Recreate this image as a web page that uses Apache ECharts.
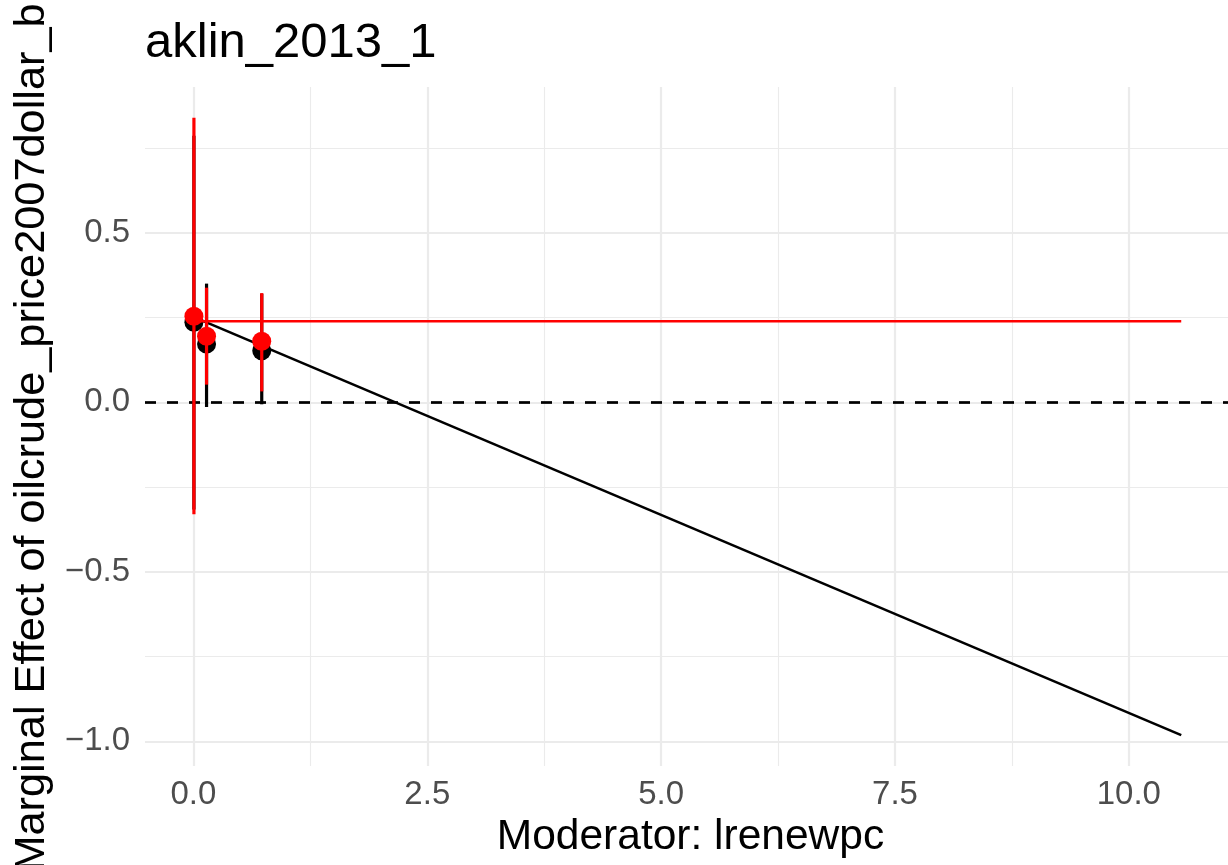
<!DOCTYPE html>
<html>
<head>
<meta charset="utf-8">
<title>aklin_2013_1</title>
<script src="https://cdn.jsdelivr.net/npm/echarts@6/dist/echarts.min.js"></script>
<style>
  html, body { margin: 0; padding: 0; background: #ffffff; }
  #chart { width: 1228px; height: 865px; }
</style>
</head>
<body>
<div id="chart"></div>
<script>
// Moderator bins (x positions of the binned estimates)
const binX = [0.005, 0.14, 0.73];

// Binned estimates (black) with confidence bounds
const binEst = [0.236, 0.172, 0.152];
const binLo  = [-0.316, -0.014, -0.006];
const binHi  = [0.786, 0.350, 0.320];

// Alternative estimates (red) with confidence bounds
const altEst = [0.254, 0.195, 0.180];
const altLo  = [-0.330, 0.052, 0.032];
const altHi  = [0.839, 0.338, 0.322];

// Linear interaction fit (black line)
const linX = [0, 10.56];
const linY = [0.252, -0.982];

// Constant effect (red line)
const flatX = [0, 10.56];
const flatY = [0.239, 0.239];

// Axis ticks
const xTicks = [0, 2.5, 5, 7.5, 10];
const xMinor = [1.25, 3.75, 6.25, 8.75];
const yTicks = [-1.0, -0.5, 0.0, 0.5];
const yMinor = [-0.75, -0.25, 0.25, 0.75];

const X_MIN = -0.518, X_MAX = 11.06;
const Y_MIN = -1.073, Y_MAX = 0.930;

const FONT = "'Liberation Sans', Arial, Helvetica, sans-serif";
const GRID = '#EBEBEB';

function fmt(v) {
  const s = Number(v).toFixed(1);
  return s.replace('-', '\u2212');
}

function errorBars(lo, hi, color, z) {
  return {
    type: 'custom',
    z: z,
    silent: true,
    data: binX.map((x, i) => [x, lo[i], hi[i]]),
    encode: { x: 0, y: [1, 2] },
    renderItem: function (params, api) {
      const p1 = api.coord([api.value(0), api.value(1)]);
      const p2 = api.coord([api.value(0), api.value(2)]);
      return {
        type: 'line',
        shape: { x1: p1[0], y1: p1[1], x2: p2[0], y2: p2[1] },
        style: { stroke: color, lineWidth: 3.2 }
      };
    }
  };
}

const chart = echarts.init(document.getElementById('chart'), null, { renderer: 'canvas' });

chart.setOption({
  animation: false,
  backgroundColor: '#ffffff',
  title: {
    text: 'aklin_2013_1',
    left: 140,
    top: 14,
    textStyle: { fontFamily: FONT, fontSize: 49, fontWeight: 'normal', color: '#000000' }
  },
  grid: {
    left: 145, right: 0, top: 87, bottom: 99,
    containLabel: false,
    outerBoundsMode: 'none'
  },
  xAxis: [
    {
      type: 'value',
      min: X_MIN, max: X_MAX,
      name: 'Moderator: lrenewpc',
      nameLocation: 'middle',
      nameGap: 45,
      nameTextStyle: { fontFamily: FONT, fontSize: 42.5, color: '#000000', padding: [0, 0, 0, 8] },
      axisLine: { show: false },
      axisTick: { show: false, customValues: xTicks },
      axisLabel: {
        customValues: xTicks,
        formatter: fmt,
        margin: 12,
        fontFamily: FONT, fontSize: 33, color: '#4D4D4D'
      },
      splitLine: { show: true, lineStyle: { color: GRID, width: 2.2 } }
    },
    {
      type: 'value',
      min: X_MIN, max: X_MAX,
      axisLine: { show: false },
      axisTick: { show: false, customValues: xMinor },
      axisLabel: { show: false },
      splitLine: { show: true, lineStyle: { color: GRID, width: 1.1 } }
    }
  ],
  yAxis: [
    {
      type: 'value',
      min: Y_MIN, max: Y_MAX,
      name: 'Marginal Effect of oilcrude_price2007dollar_b',
      nameLocation: 'middle',
      nameGap: 91,
      nameTextStyle: { fontFamily: FONT, fontSize: 43.3, color: '#000000', padding: [0, 22, 0, 0] },
      axisLine: { show: false },
      axisTick: { show: false, customValues: yTicks },
      axisLabel: {
        customValues: yTicks,
        formatter: fmt,
        margin: 15,
        fontFamily: FONT, fontSize: 33, color: '#4D4D4D'
      },
      splitLine: { show: true, lineStyle: { color: GRID, width: 2.2 } }
    },
    {
      type: 'value',
      min: Y_MIN, max: Y_MAX,
      axisLine: { show: false },
      axisTick: { show: false, customValues: yMinor },
      axisLabel: { show: false },
      splitLine: { show: true, lineStyle: { color: GRID, width: 1.1 } }
    }
  ],
  series: [
    {
      // zero reference line
      type: 'line',
      z: 1,
      data: [],
      silent: true,
      markLine: {
        silent: true,
        symbol: ['none', 'none'],
        label: { show: false },
        lineStyle: { color: '#000000', width: 2.7, type: [11, 11] },
        data: [{ yAxis: 0 }]
      }
    },
    {
      type: 'line',
      z: 2,
      silent: true,
      showSymbol: false,
      data: linX.map((x, i) => [x, linY[i]]),
      lineStyle: { color: '#000000', width: 2.6 }
    },
    errorBars(binLo, binHi, '#000000', 3),
    {
      type: 'scatter',
      z: 4,
      silent: true,
      symbol: 'circle',
      symbolSize: 19,
      data: binX.map((x, i) => [x, binEst[i]]),
      itemStyle: { color: '#000000', opacity: 1 }
    },
    {
      type: 'line',
      z: 5,
      silent: true,
      showSymbol: false,
      data: flatX.map((x, i) => [x, flatY[i]]),
      lineStyle: { color: '#FF0000', width: 2.6 }
    },
    errorBars(altLo, altHi, '#FF0000', 6),
    {
      type: 'scatter',
      z: 7,
      silent: true,
      symbol: 'circle',
      symbolSize: 19,
      data: binX.map((x, i) => [x, altEst[i]]),
      itemStyle: { color: '#FF0000', opacity: 1 }
    }
  ]
});
</script>
</body>
</html>
